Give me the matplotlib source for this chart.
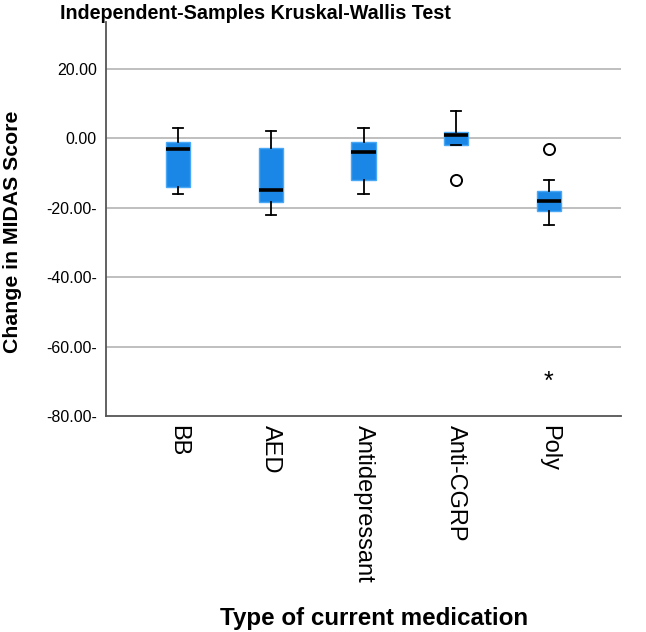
import matplotlib
matplotlib.use("Agg")
import matplotlib.pyplot as plt

plt.rcParams['font.family'] = ['Liberation Sans', 'DejaVu Sans']

groups = ["BB", "AED", "Antidepressant", "Anti-CGRP", "Poly"]
whis_lo = [-16, -22, -16, -2, -25]
q1 = [-14, -18.4, -12, -1.9, -21]
med = [-3, -15, -4, 1, -18]
q3 = [-1.2, -2.7, -1.2, 1.8, -15.2]
whis_hi = [3, 2, 3, 8, -12]
outliers = [[], [], [], [-12], [-3]]
extremes = [[], [], [], [], [-68.5]]

yticks = [20, 0, -20, -40, -60, -80]
ytick_labels = ["20.00", "0.00", "-20.00-", "-40.00-", "-60.00-", "-80.00-"]

blue = "#1a87e6"
edge = "#48a8f5"

fig = plt.figure(figsize=(6.46, 6.32), dpi=100)
ax = fig.add_axes([106/646, 1-416/632, (621-106)/646, (416-22)/632])

stats = []
for i, g in enumerate(groups):
    stats.append(dict(label=g, whislo=whis_lo[i], q1=q1[i], med=med[i],
                      q3=q3[i], whishi=whis_hi[i], fliers=outliers[i]))

pos = list(range(len(groups)))
ax.bxp(stats, positions=pos, widths=0.26, capwidths=0.11, patch_artist=True,
       boxprops=dict(facecolor=blue, edgecolor=edge, linewidth=1),
       medianprops=dict(color="black", linewidth=2.6),
       whiskerprops=dict(color="black", linewidth=1.3),
       capprops=dict(color="black", linewidth=1.3),
       flierprops=dict(marker="o", markerfacecolor="white", markeredgecolor="black",
                       markersize=8, markeredgewidth=1.4),
       zorder=3)

# asterisk glyph sits high in its box, nudge it down a bit
for i, ex in enumerate(extremes):
    for v in ex:
        ax.annotate("*", (pos[i], v), xytext=(0, -4), textcoords="offset points",
                    ha="center", va="center", fontsize=18, zorder=4)

ax.set_xlim(-0.78, 4.78)
ax.set_ylim(-80, 33.5)
ax.set_yticks(yticks)
ax.set_yticklabels(ytick_labels, fontsize=11.5)
ax.set_xticks(pos)
ax.set_xticklabels(groups, rotation=270, fontsize=17, va="top", ha="center")
ax.tick_params(axis="both", length=0, pad=6.5)

for y in yticks[:-1]:
    ax.axhline(y, color="#b4b4b4", linewidth=1.2, zorder=1)

for s in ["top", "right"]:
    ax.spines[s].set_visible(False)
for s in ["left", "bottom"]:
    ax.spines[s].set_color("#555555")
    ax.spines[s].set_linewidth(1.3)

fig.text(13/646, 1-232/632, "Change in MIDAS Score", fontsize=15.3,
         fontweight="bold", rotation=90, va="center", ha="center")
fig.text(220/646, 1-625/632, "Type of current medication", fontsize=17.4,
         fontweight="bold", va="baseline", ha="left")
fig.text(60/646, 1-19/632, "Independent-Samples Kruskal-Wallis Test",
         fontsize=14.2, fontweight="bold", va="baseline", ha="left")

fig.savefig("out.png", dpi=100)
